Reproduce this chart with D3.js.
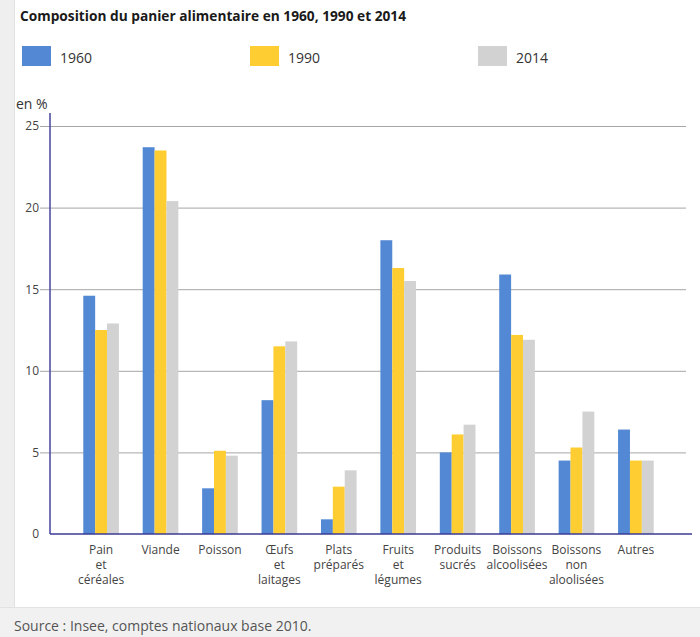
<!DOCTYPE html>
<html>
<head>
<meta charset="utf-8">
<script src="https://cdn.jsdelivr.net/npm/d3@7"></script>
<style>
  html, body { margin: 0; padding: 0; background: #fff; }
  svg { display: block; font-family: "Open Sans", "Noto Sans", sans-serif; }
</style>
</head>
<body>
<div id="chart"></div>
<script>
// Categories of the food basket (line breaks in labels are "|")
const categories = [
  "Pain|et|céréales", "Viande", "Poisson", "Œufs|et|laitages", "Plats|préparés",
  "Fruits|et|légumes", "Produits|sucrés", "Boissons|alcoolisées", "Boissons|non|aloolisées", "Autres"
];
const years = ["1960", "1990", "2014"];
// Share of the food budget, in %
const values1960 = [14.6, 23.7, 2.8, 8.2, 0.9, 18.0, 5.0, 15.9, 4.5, 6.4];
const values1990 = [12.5, 23.5, 5.1, 11.5, 2.9, 16.3, 6.1, 12.2, 5.3, 4.5];
const values2014 = [12.9, 20.4, 4.8, 11.8, 3.9, 15.5, 6.7, 11.9, 7.5, 4.5];
const yTicks = [0, 5, 10, 15, 20, 25];
const colors = ["#5389d4", "#fecd31", "#d2d2d2"];

const W = 700, H = 637;
const svg = d3.select("#chart").append("svg").attr("width", W).attr("height", H);

// page frame: grey left margin and footer band
svg.append("rect").attr("x", 0).attr("y", 0).attr("width", 14).attr("height", H).attr("fill", "#efefef");
svg.append("rect").attr("x", 14).attr("y", 0).attr("width", 1).attr("height", 608).attr("fill", "#e2e2e2");
svg.append("rect").attr("x", 0).attr("y", 608).attr("width", W).attr("height", H - 608).attr("fill", "#f1f1f1");
svg.append("rect").attr("x", 0).attr("y", 607).attr("width", W).attr("height", 1).attr("fill", "#e2e2e2");

// title
svg.append("text")
  .attr("x", 20).attr("y", 21)
  .attr("font-size", 14).attr("font-weight", "bold").attr("fill", "#1a1a1a")
  .attr("textLength", 386).attr("lengthAdjust", "spacingAndGlyphs")
  .text("Composition du panier alimentaire en 1960, 1990 et 2014");

// legend
const legendX = [22, 250, 478];
years.forEach((y, i) => {
  svg.append("rect").attr("x", legendX[i]).attr("y", 46).attr("width", 29).attr("height", 20).attr("fill", colors[i]);
  svg.append("text").attr("x", legendX[i] + 38).attr("y", 63)
    .attr("font-size", 14).attr("fill", "#333").text(y);
});

// scales
const y = d3.scaleLinear().domain([0, 25]).range([534, 126]);
const x0 = d3.scaleBand().domain(d3.range(categories.length)).range([50, 687])
  .paddingInner(0.4).paddingOuter(0.56);
const x1 = d3.scaleBand().domain(years).range([0, x0.bandwidth()]);

// unit label
svg.append("text").attr("x", 16).attr("y", 109).attr("font-size", 14).attr("fill", "#333").text("en %");

// y axis with gridlines
const yAxis = d3.axisLeft(y).tickValues(yTicks).tickSize(-(686 - 40)).tickPadding(2).tickSizeOuter(0);
const gy = svg.append("g").attr("transform", "translate(40,0)").call(yAxis);
gy.select(".domain").remove();
gy.selectAll(".tick line").attr("stroke", "#a6a6a6").attr("stroke-width", 1);
gy.selectAll(".tick text").attr("font-size", 12).attr("fill", "#444").attr("x", -1)
  .attr("font-family", "\"Open Sans\", sans-serif");
gy.selectAll(".tick").filter(d => d === 0).select("line").remove();

// bars
const series = [values1960, values1990, values2014];
const groups = svg.append("g").selectAll("g").data(categories).join("g")
  .attr("transform", (d, i) => `translate(${x0(i)},0)`);
groups.selectAll("rect")
  .data((d, i) => years.map((yr, k) => ({ yr, k, v: series[k][i] })))
  .join("rect")
  .attr("x", d => x1(d.yr))
  .attr("y", d => y(d.v))
  .attr("width", x1.bandwidth())
  .attr("height", d => y(0) - y(d.v))
  .attr("fill", d => colors[d.k]);

// axis lines
svg.append("line").attr("x1", 50).attr("x2", 50).attr("y1", 113).attr("y2", 534)
  .attr("stroke", "#4545a3").attr("stroke-width", 1.5);
svg.append("line").attr("x1", 50).attr("x2", 692).attr("y1", 534).attr("y2", 534)
  .attr("stroke", "#3a3a96").attr("stroke-width", 1.5);

// category labels
const labels = svg.append("g");
categories.forEach((c, i) => {
  const t = labels.append("text")
    .attr("x", x0(i) + x0.bandwidth() / 2).attr("y", 554)
    .attr("text-anchor", "middle").attr("font-size", 12).attr("fill", "#444");
  c.split("|").forEach((line, j) => {
    t.append("tspan").attr("x", x0(i) + x0.bandwidth() / 2).attr("dy", j === 0 ? 0 : 15).text(line);
  });
});

// source
svg.append("text").attr("x", 14).attr("y", 631).attr("font-size", 14).attr("fill", "#555")
  .text("Source : Insee, comptes nationaux base 2010.");
</script>
</body>
</html>
